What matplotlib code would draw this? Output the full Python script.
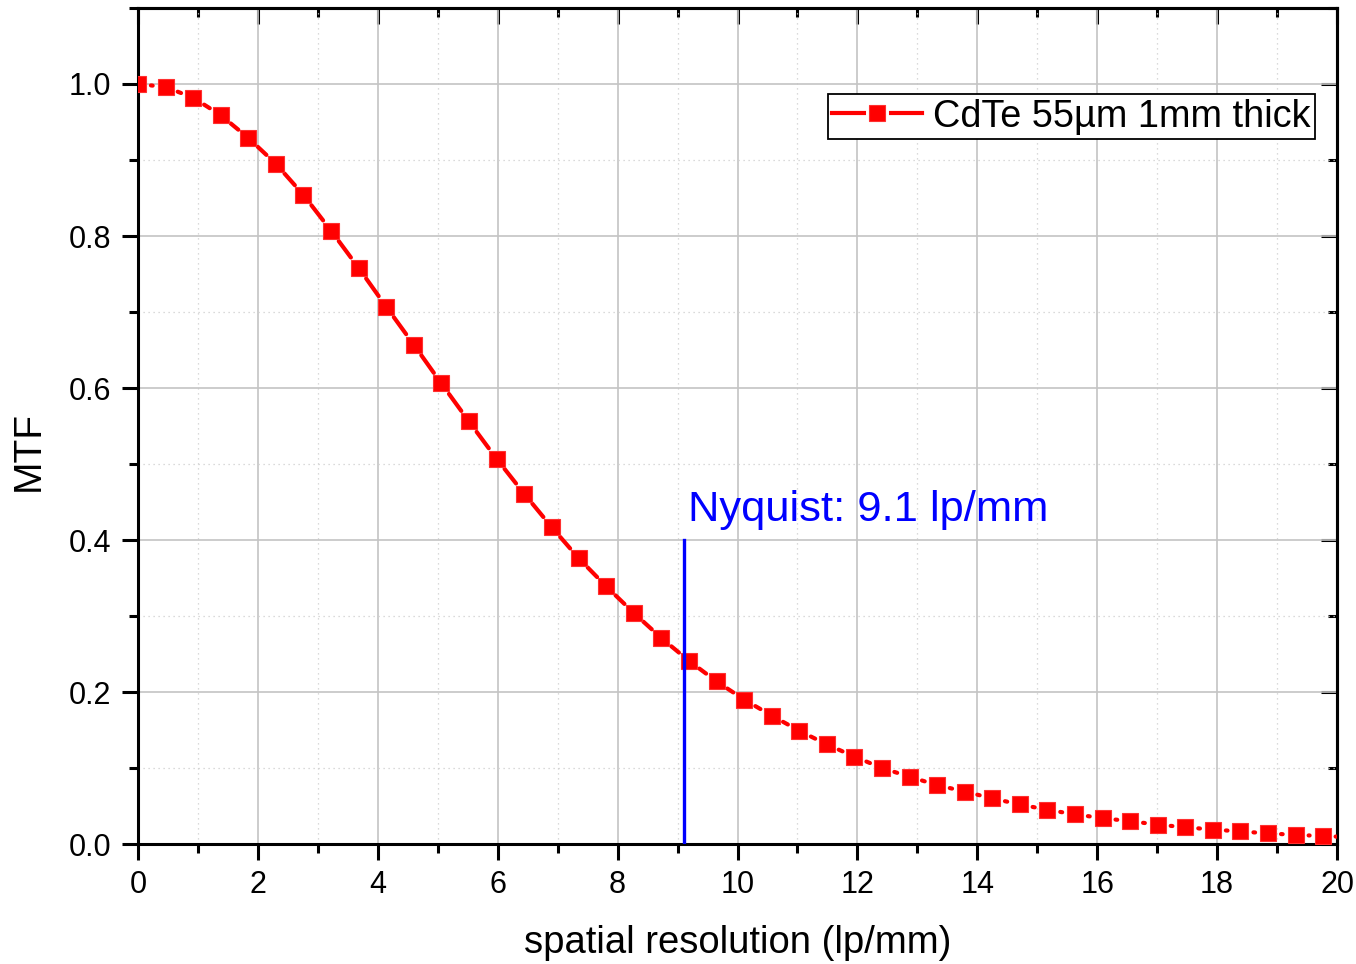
import numpy as np
import matplotlib
matplotlib.use("Agg")
import matplotlib.pyplot as plt
from matplotlib.lines import Line2D
from matplotlib.ticker import MultipleLocator, FormatStrFormatter

plt.rcParams["font.family"] = ["Liberation Sans", "DejaVu Sans"]

# MTF curve
freq = [0.0, 0.46, 0.92, 1.38, 1.84, 2.30, 2.76, 3.22, 3.68, 4.14,
        4.60, 5.06, 5.52, 5.98, 6.44, 6.90, 7.35, 7.81, 8.27, 8.73,
        9.19, 9.65, 10.11, 10.57, 11.03, 11.49, 11.95, 12.41, 12.87, 13.33,
        13.79, 14.25, 14.71, 15.17, 15.63, 16.09, 16.55, 17.01, 17.47, 17.93,
        18.39, 18.85, 19.31, 19.76, 20.22]
mtf = [1.000, 0.996, 0.982, 0.959, 0.929, 0.895, 0.854, 0.807, 0.758, 0.707,
       0.657, 0.606, 0.556, 0.507, 0.461, 0.417, 0.376, 0.339, 0.304, 0.271,
       0.241, 0.214, 0.190, 0.169, 0.149, 0.131, 0.115, 0.100, 0.0885, 0.0775,
       0.069, 0.060, 0.052, 0.045, 0.039, 0.034, 0.030, 0.0255, 0.022, 0.019,
       0.0165, 0.014, 0.012, 0.0105, 0.009]
series_label = "CdTe 55µm 1mm thick"
nyquist = 9.1
nyquist_top = 0.4
nyquist_label = "Nyquist: 9.1 lp/mm"

W, H = 1356, 964
fig = plt.figure(figsize=(W / 100, H / 100), dpi=100)
ax = fig.add_axes([138 / W, 1 - 844 / H, (1337 - 138) / W, (844 - 8) / H])
ax.set_xlim(0, 20)
ax.set_ylim(0, 1.1)

ax.xaxis.set_major_locator(MultipleLocator(2))
ax.xaxis.set_minor_locator(MultipleLocator(1))
ax.yaxis.set_major_locator(MultipleLocator(0.2))
ax.yaxis.set_minor_locator(MultipleLocator(0.1))
ax.yaxis.set_major_formatter(FormatStrFormatter("%.1f"))

ax.grid(which="major", color="#c4c4c4", lw=1.2, ls="-", zorder=0)
ax.grid(which="minor", color="#cfcfcf", lw=0.9, ls=(0, (1, 3)), zorder=0)
ax.set_axisbelow(True)

for s in ax.spines.values():
    s.set_linewidth(2.2)
ax.tick_params(which="major", direction="out", length=11.5, width=2.2,
               labelsize=22, pad=7.5)
ax.tick_params(which="minor", direction="out", length=6.5, width=2.2)

# mirrored ticks pointing inward on top and right
top = ax.secondary_xaxis("top")
top.xaxis.set_major_locator(MultipleLocator(2))
top.xaxis.set_minor_locator(MultipleLocator(1))
top.tick_params(which="major", direction="in", length=11.5, width=2.2, labeltop=False)
top.tick_params(which="minor", direction="in", length=6.5, width=2.2)
right = ax.secondary_yaxis("right")
right.yaxis.set_major_locator(MultipleLocator(0.2))
right.yaxis.set_minor_locator(MultipleLocator(0.1))
right.tick_params(which="major", direction="in", length=11.5, width=2.2, labelright=False)
right.tick_params(which="minor", direction="in", length=6.5, width=2.2)
for sec in (top, right):
    for s in sec.spines.values():
        s.set_linewidth(2.2)

# line segments with a gap around each symbol (Origin style)
pts = ax.transData.transform(np.column_stack([freq, mtf]))
inv = ax.transData.inverted()
gap = 13.0
for p0, p1 in zip(pts[:-1], pts[1:]):
    d = p1 - p0
    L = np.hypot(*d)
    if L <= 2 * gap:
        continue
    u = d / L
    a = inv.transform(p0 + u * gap)
    b = inv.transform(p1 - u * gap)
    ax.plot([a[0], b[0]], [a[1], b[1]], color="red", lw=3,
            solid_capstyle="round", zorder=3)
ax.plot(freq, mtf, ls="none", marker="s", ms=11.5, mfc="red", mec="#ff3030",
        mew=0.8, zorder=4)

# Nyquist marker
ax.plot([nyquist, nyquist], [0, nyquist_top], color="blue", lw=2.4, zorder=5)
ax.text(9.18, 0.425, nyquist_label, color="blue", fontsize=31.3,
        va="baseline", ha="left")

handle = Line2D([], [], color="red", lw=3, marker="s", ms=11.5, mfc="red",
                mec="white", mew=5)
handle2 = Line2D([], [], ls="none", marker="s", ms=11.5, mfc="red", mec="#ff3030", mew=0.8)
leg = ax.legend([(handle, handle2)], [series_label], loc="upper right",
                bbox_to_anchor=(1315 / W, 1 - 94 / H), bbox_transform=fig.transFigure,
                fontsize=27.3, fancybox=False, framealpha=1, edgecolor="black",
                handlelength=2.35, handletextpad=0.3, borderpad=0.12,
                borderaxespad=0)
leg.get_frame().set_linewidth(1.3)

ax.set_xlabel("spatial resolution (lp/mm)", fontsize=27.5, va="center")
ax.xaxis.set_label_coords(0.5, (844 - 943) / 836)
ax.set_ylabel("MTF", fontsize=28, va="center")
ax.yaxis.set_label_coords((29 - 138) / 1199, (844 - 451) / 836)

fig.savefig("out.png", dpi=100)
